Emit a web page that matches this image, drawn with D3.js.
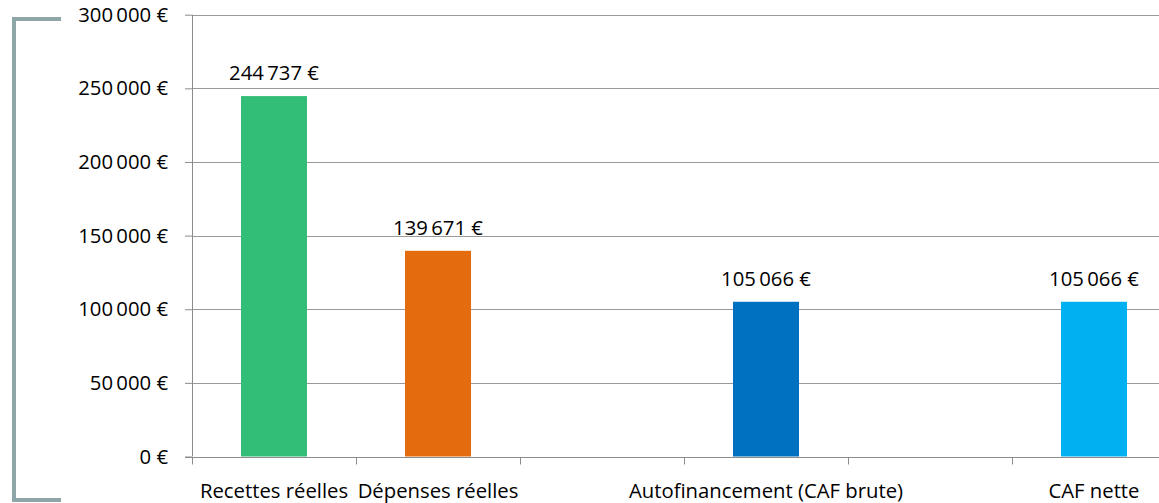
<!DOCTYPE html>
<html><head><meta charset="utf-8">
<script src="https://cdn.jsdelivr.net/npm/d3@7"></script>
<style>body{margin:0;background:#fff}svg{display:block}</style>
</head><body>
<svg id="c" width="1159" height="503"></svg>
<script>
const categories = ["Recettes réelles", "Dépenses réelles", "", "Autofinancement (CAF brute)", "", "CAF nette"];
const values = [244737, 139671, null, 105066, null, 105066];
const colors = ["#33BE77", "#E46C0E", null, "#0070C0", null, "#00B0F0"];
const yTicks = [0, 50000, 100000, 150000, 200000, 250000, 300000];

const svg = d3.select("#c");
const font = "'Open Sans', sans-serif";
const fs = 20.3;
const fmt = v => d3.format(",")(v).replace(/,/g, "\u2009") + " €";

const x = d3.scaleBand().domain(d3.range(categories.length)).range([192, 1176]).paddingInner(0).paddingOuter(0);
const y = d3.scaleLinear().domain([0, 300000]).range([456.5, 14.7]);

// bracket
svg.append("path").attr("d", "M61,19 H14 V500 H61").attr("fill", "none")
  .attr("stroke", "#8FA6A9").attr("stroke-width", 4);

// gridlines
svg.append("g").selectAll("line").data(yTicks.filter(d => d > 0)).join("line")
  .attr("x1", 192).attr("x2", 1176).attr("y1", d => Math.round(y(d)) + 0.5).attr("y2", d => Math.round(y(d)) + 0.5)
  .attr("stroke", "#9a9a9a").attr("stroke-width", 1);

// bars
const bw = 66;
svg.append("g").selectAll("rect").data(values.map((v, i) => ({v, i})).filter(d => d.v != null)).join("rect")
  .attr("x", d => x(d.i) + x.bandwidth() / 2 - bw / 2).attr("width", bw)
  .attr("y", d => y(d.v)).attr("height", d => y(0) - y(d.v))
  .attr("fill", d => colors[d.i]);

// value labels
svg.append("g").selectAll("text").data(values.map((v, i) => ({v, i})).filter(d => d.v != null)).join("text")
  .attr("x", d => x(d.i) + x.bandwidth() / 2).attr("y", d => y(d.v) - 16)
  .attr("text-anchor", "middle").attr("font-family", font).attr("font-size", fs).attr("fill", "#000")
  .text(d => fmt(d.v));

// y axis
const ya = svg.append("g").attr("transform", "translate(192,0)")
  .call(d3.axisLeft(y).tickValues(yTicks).tickSize(7).tickPadding(17).tickFormat(fmt));
ya.select(".domain").attr("stroke", "#8c8c8c").attr("d", `M0.5,${y(300000)}V${y(0)}`);
ya.selectAll(".tick line").attr("stroke", "#8c8c8c");
ya.selectAll("text").attr("font-family", font).attr("font-size", fs).attr("fill", "#000");

// x axis
const xa = svg.append("g").attr("transform", `translate(0,${Math.round(y(0)) + 0.5})`);
xa.append("line").attr("x1", 185).attr("x2", 1176).attr("stroke", "#8c8c8c");
xa.selectAll("line.t").data(d3.range(categories.length + 1)).join("line").attr("class", "t")
  .attr("x1", i => Math.round(192 + i * x.bandwidth()) + 0.5).attr("x2", i => Math.round(192 + i * x.bandwidth()) + 0.5)
  .attr("y1", 0).attr("y2", 7).attr("stroke", "#8c8c8c");
xa.selectAll("text").data(categories.map((c, i) => ({c, i}))).join("text")
  .attr("x", d => x(d.i) + x.bandwidth() / 2).attr("y", 40)
  .attr("text-anchor", "middle").attr("font-family", font).attr("font-size", fs).attr("fill", "#000")
  .text(d => d.c);
</script>
</body></html>
